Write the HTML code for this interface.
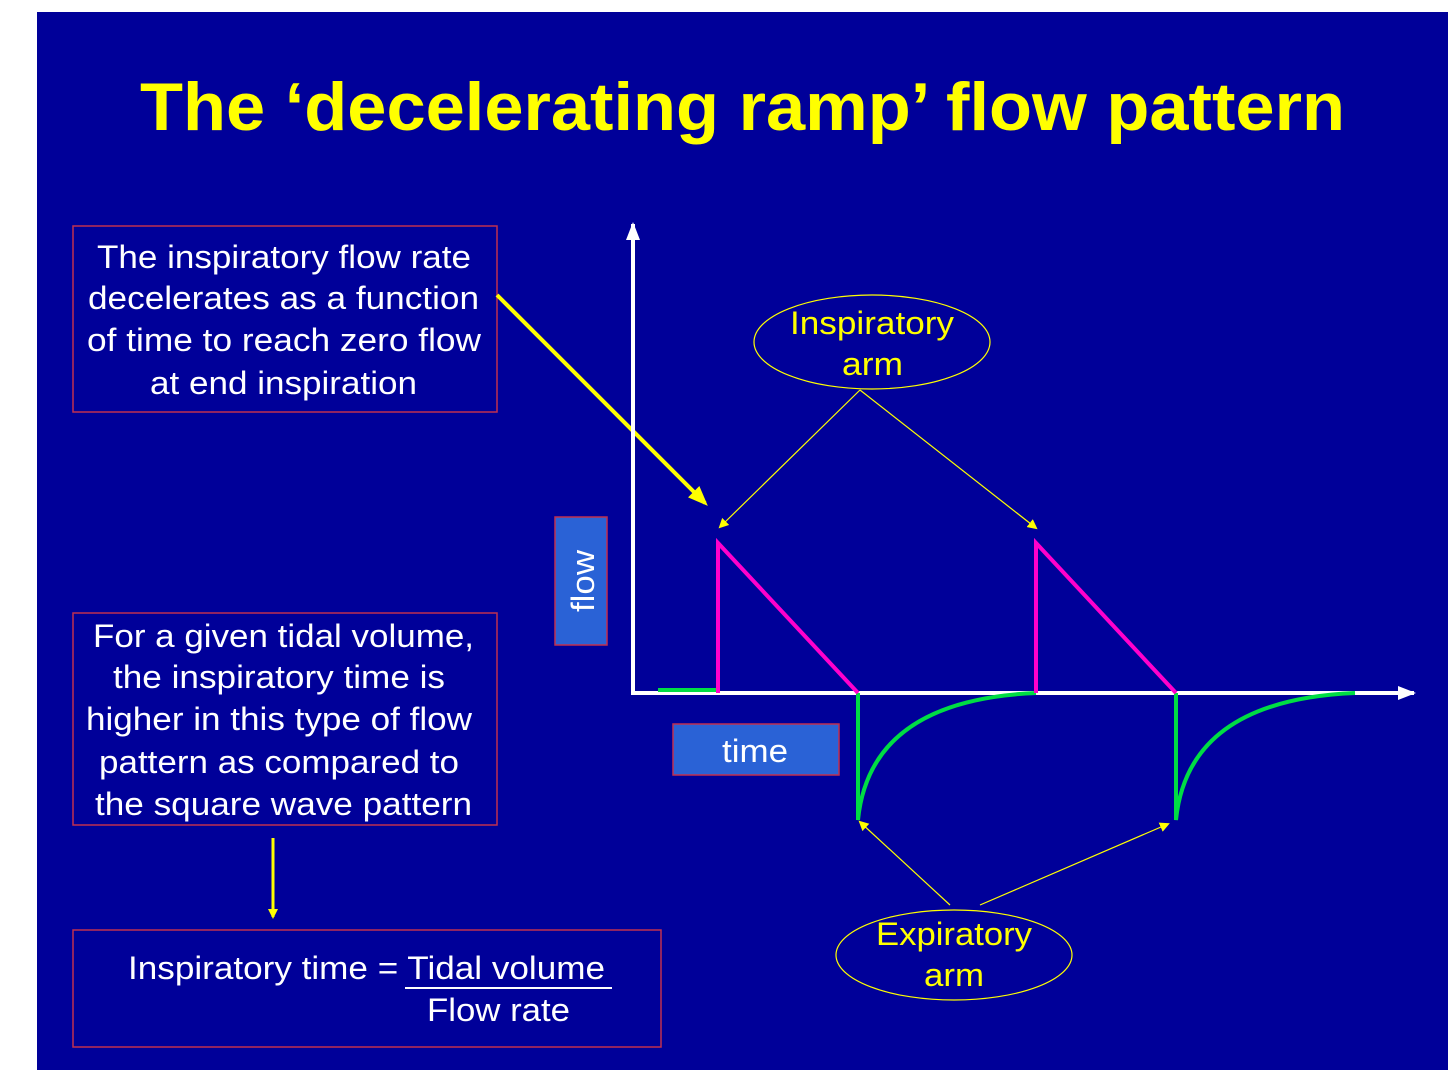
<!DOCTYPE html>
<html><head><style>body{margin:0;background:#fff}</style></head><body>
<svg width="1456" height="1083" xmlns="http://www.w3.org/2000/svg" font-family="Liberation Sans, Arial, sans-serif">
<defs>
<marker id="ay" markerWidth="10" markerHeight="10" refX="8" refY="5" orient="auto" markerUnits="userSpaceOnUse"><path d="M0,0 L10,5 L0,10 z" fill="#ffff00"/></marker>
<marker id="ayb" markerWidth="20" markerHeight="16" refX="16" refY="8" orient="auto" markerUnits="userSpaceOnUse"><path d="M0,0 L20,8 L0,16 z" fill="#ffff00"/></marker>
<marker id="aw" markerWidth="18" markerHeight="14" refX="16" refY="7" orient="auto" markerUnits="userSpaceOnUse"><path d="M0,0 L18,7 L0,14 z" fill="#fff"/></marker>
</defs>
<rect x="37" y="12" width="1411" height="1058" fill="#000099"/>
<text x="140" y="130" textLength="1205" lengthAdjust="spacingAndGlyphs" font-size="68" font-weight="bold" fill="#ffff00">The ‘decelerating ramp’ flow pattern</text>

<g fill="none" stroke="#c03050" stroke-width="1.5">
<rect x="73" y="226" width="424" height="186"/>
<rect x="73" y="613" width="424" height="212"/>
<rect x="73" y="930" width="588" height="117"/>
</g>
<g fill="#fff" font-size="32" lengthAdjust="spacingAndGlyphs">
<text x="97" y="268" textLength="374" lengthAdjust="spacingAndGlyphs">The inspiratory flow rate</text>
<text x="88" y="309" textLength="391" lengthAdjust="spacingAndGlyphs">decelerates as a function</text>
<text x="87" y="351" textLength="394" lengthAdjust="spacingAndGlyphs">of time to reach zero flow</text>
<text x="150" y="394" textLength="267" lengthAdjust="spacingAndGlyphs">at end inspiration</text>
<text x="93" y="647" textLength="381" lengthAdjust="spacingAndGlyphs">For a given tidal volume,</text>
<text x="113" y="688" textLength="332" lengthAdjust="spacingAndGlyphs">the inspiratory time is</text>
<text x="86" y="730" textLength="386" lengthAdjust="spacingAndGlyphs">higher in this type of flow</text>
<text x="99" y="773" textLength="360" lengthAdjust="spacingAndGlyphs">pattern as compared to</text>
<text x="95" y="815" textLength="377" lengthAdjust="spacingAndGlyphs">the square wave pattern</text>
<text x="128" y="979" textLength="477" lengthAdjust="spacingAndGlyphs">Inspiratory time = Tidal volume</text>
<text x="427" y="1021" textLength="143" lengthAdjust="spacingAndGlyphs">Flow rate</text>
</g>
<line x1="405" y1="988" x2="612" y2="988" stroke="#fff" stroke-width="2"/>
<line x1="273" y1="838" x2="273" y2="917" stroke="#ffff00" stroke-width="3" marker-end="url(#ay)"/>
<line x1="497" y1="295" x2="705" y2="503" stroke="#ffff00" stroke-width="4" marker-end="url(#ayb)"/>

<rect x="555" y="517" width="52" height="128" fill="#2a62d6" stroke="#c03050" stroke-width="1.5"/>
<text transform="translate(594,612) rotate(-90)" textLength="62" lengthAdjust="spacingAndGlyphs" fill="#fff" font-size="32">flow</text>
<rect x="673" y="724" width="166" height="51" fill="#2a62d6" stroke="#c03050" stroke-width="1.5"/>
<text x="722" y="762" textLength="66" lengthAdjust="spacingAndGlyphs" fill="#fff" font-size="32">time</text>

<line x1="633" y1="695" x2="633" y2="224" stroke="#fff" stroke-width="4" marker-end="url(#aw)"/>
<line x1="631" y1="693" x2="1414" y2="693" stroke="#fff" stroke-width="4" marker-end="url(#aw)"/>

<g stroke="#00dd44" stroke-width="4" fill="none">
<line x1="658" y1="690" x2="718" y2="690"/>
<path d="M858,693 L858,820 Q870,700 1036,693"/>
<path d="M1176,693 L1176,820 Q1188,700 1355,693"/>
</g>
<g stroke="#ff00cc" stroke-width="4" fill="none">
<path d="M718,693 L718,543 L858,693"/>
<path d="M1036,693 L1036,543 L1176,693"/>
</g>

<g fill="none" stroke="#ffff00" stroke-width="1.2">
<ellipse cx="872" cy="342" rx="118" ry="47"/>
<ellipse cx="954" cy="955" rx="118" ry="45"/>
<line x1="860" y1="390" x2="720" y2="527" marker-end="url(#ay)"/>
<line x1="860" y1="390" x2="1036" y2="528" marker-end="url(#ay)"/>
<line x1="950" y1="905" x2="860" y2="822" marker-end="url(#ay)"/>
<line x1="980" y1="905" x2="1168" y2="824" marker-end="url(#ay)"/>
</g>
<g fill="#ffff00" font-size="32">
<text x="790" y="334" textLength="164" lengthAdjust="spacingAndGlyphs">Inspiratory</text>
<text x="842" y="375" textLength="61" lengthAdjust="spacingAndGlyphs">arm</text>
<text x="876" y="945" textLength="156" lengthAdjust="spacingAndGlyphs">Expiratory</text>
<text x="924" y="986" textLength="60" lengthAdjust="spacingAndGlyphs">arm</text>
</g>
</svg>
</body></html>
